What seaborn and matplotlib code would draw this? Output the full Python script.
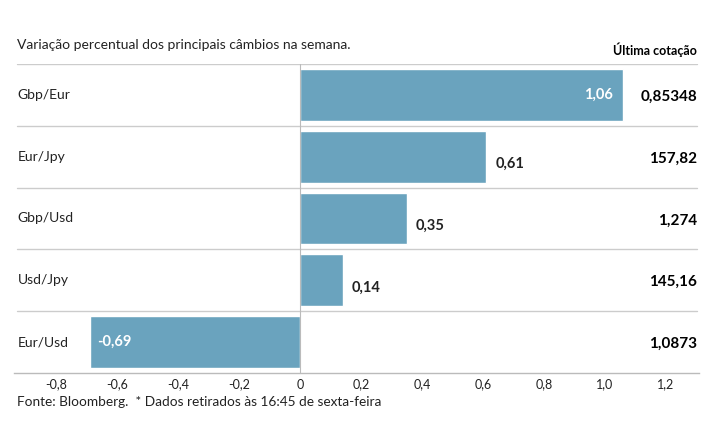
import matplotlib
matplotlib.use("Agg")
import matplotlib.pyplot as plt
import numpy as np
import pandas as pd
import seaborn as sns

pairs = ["Gbp/Eur", "Eur/Jpy", "Gbp/Usd", "Usd/Jpy", "Eur/Usd"]
change = [1.06, 0.61, 0.35, 0.14, -0.69]
quotes = ["0,85348", "157,82", "1,274", "145,16", "1,0873"]
inside = [True, False, False, False, True]
xticks = [-0.8, -0.6, -0.4, -0.2, 0, 0.2, 0.4, 0.6, 0.8, 1.0, 1.2]

sns.set_theme(style="white")
plt.rcParams["font.family"] = ["Lato", "DejaVu Sans"]

bar_color = "#6aa3be"
text_color = "#222222"
grid_color = "#cccccc"

df = pd.DataFrame({"pair": pairs, "change": change})

fig = plt.figure(figsize=(7.15, 4.45), dpi=100)
ax = fig.add_axes([14 / 715, 72 / 445, 685 / 715, 309 / 445])

sns.barplot(data=df, y="pair", x="change", orient="h", color=bar_color,
            width=0.84, saturation=1, ax=ax, zorder=2)

ax.set_xlim(-0.938, 1.308)
ax.set_ylim(4.5, -0.5)
ax.set_xlabel("")
ax.set_ylabel("")
ax.set_yticks([])

for s in ["top", "left", "right"]:
    ax.spines[s].set_visible(False)
ax.spines["bottom"].set_color("#bbbbbb")
ax.spines["bottom"].set_linewidth(1)

ax.set_xticks(xticks)
ax.set_xticklabels([("%.1f" % t).replace(".", ",") if t != 0 else "0" for t in xticks])
ax.tick_params(axis="x", direction="in", length=10, width=0.8, color="#cccccc",
               labelsize=9, labelcolor=text_color, pad=4)

for y in [-0.5, 0.5, 1.5, 2.5, 3.5]:
    ax.axhline(y, xmin=3 / 685, xmax=683 / 685, color=grid_color, lw=1, zorder=1)
ax.axvline(0, color="#bbbbbb", lw=0.8, zorder=3)

# labels per row
for i, (p, v, q, ins) in enumerate(zip(pairs, change, quotes, inside)):
    ax.text(0.005, i + 0.0, p, transform=ax.get_yaxis_transform(), ha="left",
            va="center", fontsize=10, color=text_color)
    lab = ("%.2f" % v).replace(".", ",")
    if ins:
        if v > 0:
            ax.text(v - 0.035, i + 0.0, lab, ha="right", va="center",
                    fontsize=10.5, color="white", fontweight="bold")
        else:
            ax.text(v + 0.025, i + 0.0, lab, ha="left", va="center",
                    fontsize=10.5, color="white", fontweight="bold")
    else:
        ax.text(v + 0.03, i + 0.12, lab, ha="left", va="center",
                fontsize=10.5, color=text_color, fontweight="bold")
    ax.text(0.997, i + 0.03, q, transform=ax.get_yaxis_transform(), ha="right",
            va="center", fontsize=11, color="black", fontweight="bold")

ax.text(0.997, -0.62, "Última cotação", transform=ax.get_yaxis_transform(),
        ha="right", va="bottom", fontsize=9, color="black", fontweight="bold")

fig.text(17 / 715, 1 - 45 / 445, "Variação percentual dos principais câmbios na semana.",
         ha="left", va="center", fontsize=10, color=text_color)
fig.text(17 / 715, 1 - 402 / 445, "Fonte: Bloomberg.  * Dados retirados às 16:45 de sexta-feira",
         ha="left", va="center", fontsize=9.8, color=text_color)

fig.savefig("out.png", dpi=100, facecolor="white")
